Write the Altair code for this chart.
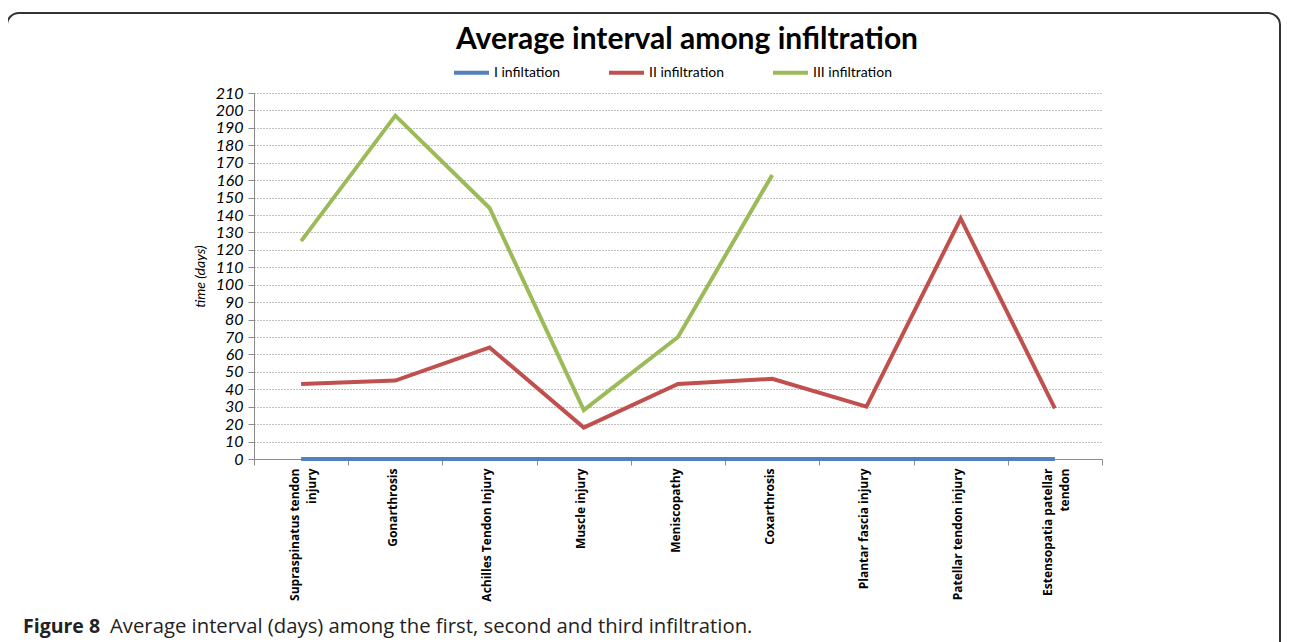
import altair as alt
import pandas as pd

# ---- data ----
categories = [
    "Supraspinatus tendon injury", "Gonarthrosis", "Achilles Tendon Injury",
    "Muscle injury", "Meniscopathy", "Coxarthrosis", "Plantar fascia injury",
    "Patellar tendon injury", "Estensopatia patellar tendon",
]
label_lines = [
    ["Supraspinatus tendon", "injury"], ["Gonarthrosis"], ["Achilles Tendon Injury"],
    ["Muscle injury"], ["Meniscopathy"], ["Coxarthrosis"], ["Plantar fascia injury"],
    ["Patellar tendon injury"], ["Estensopatia patellar", "tendon"],
]
series_names = ["I infiltation", "II infiltration", "III infiltration"]
first_inf = [0, 0, 0, 0, 0, 0, 0, 0, 0]
second_inf = [43, 45, 64, 18, 43, 46, 30, 138, 29]
third_inf = [125, 197, 144, 28, 70, 163, None, None, None]
series_colors = ["#4F81BD", "#C0504D", "#9BBB59"]
y_ticks = list(range(0, 211, 10))

title_text = "Average interval among infiltration"
caption_bold = "Figure 8"
caption_rest = "Average interval (days) among the first, second and third infiltration."

rows = []
for name, vals in zip(series_names, [first_inf, second_inf, third_inf]):
    for i, (c, v) in enumerate(zip(categories, vals)):
        if v is not None:
            rows.append({"category": c, "series": name, "value": v, "order": i})
df = pd.DataFrame(rows)

def js_str(s):
    return "'" + s.replace("'", "\\'") + "'"

expr = "datum.label"
multi = []
for c, lines in zip(categories, label_lines):
    if len(lines) > 1:
        multi.append(c)
        arr = "[" + ",".join(js_str(l) for l in lines) + "]"
        expr = f"datum.label == {js_str(c)} ? {arr} : ({expr})"
multi_test = " || ".join(f"datum.label == {js_str(c)}" for c in multi)

lines_chart = alt.Chart(df).mark_line(strokeWidth=4).encode(
    x=alt.X("category:N", sort=categories, bandPosition=0.5,
            scale=alt.Scale(type="band", paddingInner=0, paddingOuter=0),
            axis=alt.Axis(title=None, tickBand="extent", grid=False,
                          domainColor="#8c8c8c", tickColor="#8c8c8c", tickSize=6,
                          labelAngle=270, labelAlign="right", labelBaseline="middle",
                          labelFont="Open Sans", labelFontWeight="bold", labelFontSize=12,
                          labelColor="#000000", labelLineHeight=17, labelPadding=3,
                          labelOffset={"condition": {"test": multi_test, "value": -7}, "value": -3},
                          labelLimit=400, labelExpr=expr)),
    y=alt.Y("value:Q", scale=alt.Scale(domain=[0, 210], nice=False),
            axis=alt.Axis(values=y_ticks, grid=True, gridDash=[1, 2], gridColor="#808080",
                          domainColor="#8c8c8c", tickColor="#8c8c8c", tickSize=6,
                          labelFont="Lato", labelFontStyle="italic", labelFontSize=16,
                          labelColor="#000000", labelPadding=5,
                          title="time (days)", titleFont="Lato", titleFontStyle="italic",
                          titleFontWeight="normal", titleFontSize=14, titleColor="#000000",
                          titlePadding=8)),
    color=alt.Color("series:N", sort=series_names,
                    scale=alt.Scale(domain=series_names, range=series_colors),
                    legend=alt.Legend(title=None, orient="none", legendX=198, legendY=-40,
                                      direction="horizontal", symbolType="stroke",
                                      symbolStrokeWidth=4, symbolSize=1225,
                                      labelFont="Lato", labelFontSize=14, labelColor="#000000",
                                      labelOffset=3, columnPadding=40)),
    order="order:Q",
)

title_layer = alt.Chart(pd.DataFrame({"t": [title_text]})).mark_text(
    align="center", baseline="alphabetic", font="Lato", fontWeight="bold",
    fontSize=30, color="#000000"
).encode(text="t:N", x=alt.value(433), y=alt.value(-44))

cap1 = alt.Chart(pd.DataFrame({"t": [caption_bold]})).mark_text(
    align="left", baseline="alphabetic", font="Open Sans", fontWeight="bold",
    fontSize=19.5, color="#222222"
).encode(text="t:N", x=alt.value(-231), y=alt.value(540))

cap2 = alt.Chart(pd.DataFrame({"t": [caption_rest]})).mark_text(
    align="left", baseline="alphabetic", font="Open Sans",
    fontSize=20.3, color="#222222"
).encode(text="t:N", x=alt.value(-144), y=alt.value(540))

frame = alt.Chart(pd.DataFrame({"f": [1]})).mark_rect(
    filled=False, stroke="#333333", strokeWidth=2, cornerRadius=12
).encode(x=alt.value(-247), x2=alt.value(1026), y=alt.value(-80), y2=alt.value(570))

chart = alt.layer(frame, lines_chart, title_layer, cap1, cap2).properties(
    width=848, height=366,
    autosize=alt.AutoSizeParams(type="none"),
    padding={"left": 246, "top": 85, "right": 180, "bottom": 183},
).configure_view(stroke="transparent")

chart.save("out.html", embed_options={"renderer": "svg", "actions": False})
